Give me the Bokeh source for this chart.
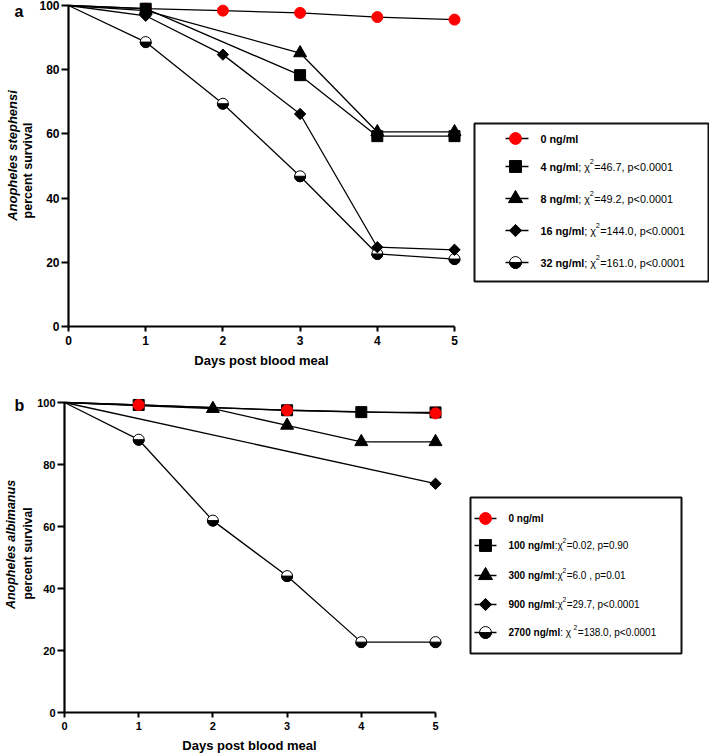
import math
from bokeh.plotting import figure
from bokeh.models import Range1d, LinearAxis, FixedTicker, ColumnDataSource
from bokeh.core.properties import value
from bokeh.embed import file_html
from bokeh.resources import INLINE

FONT = "Liberation Sans"

# ---------------- data: panel a (Anopheles stephensi) ----------------
days_a0 = [0, 1, 2, 3, 4, 5]
surv_a0 = [100, 99.0, 98.4, 97.7, 96.4, 95.6]
days_a4 = [0, 1, 3, 4, 5]
surv_a4 = [100, 99.0, 78.3, 59.3, 59.3]
days_a8 = [0, 1, 3, 4, 5]
surv_a8 = [100, 98.4, 85.2, 60.6, 60.6]
days_a16 = [0, 1, 2, 3, 4, 5]
surv_a16 = [100, 96.8, 84.7, 66.2, 24.7, 23.9]
days_a32 = [0, 1, 2, 3, 4, 5]
surv_a32 = [100, 88.6, 69.4, 46.8, 22.6, 21.0]

# ---------------- data: panel b (Anopheles albimanus) ----------------
days_b0 = [0, 1, 3, 5]
surv_b0 = [100, 99.2, 97.5, 96.5]
days_b100 = [0, 1, 3, 4, 5]
surv_b100 = [100, 99.2, 97.5, 96.9, 96.8]
days_b300 = [0, 2, 3, 4, 5]
surv_b300 = [100, 98.0, 92.6, 87.3, 87.3]
days_b900 = [0, 5]
surv_b900 = [100, 73.8]
days_b2700 = [0, 1, 2, 3, 4, 5]
surv_b2700 = [100, 88.0, 61.9, 44.0, 22.7, 22.7]

x_ticks = [0, 1, 2, 3, 4, 5]
y_ticks = [0, 20, 40, 60, 80, 100]

# ---------------- legend texts ----------------
leg_a_bold = ["0 ng/ml", "4 ng/ml", "8 ng/ml", "16 ng/ml", "32 ng/ml"]
leg_a_mid = ["", "; \u03c7", "; \u03c7", "; \u03c7", "; \u03c7"]
leg_a_sup = ["", "2", "2", "2", "2"]
leg_a_tail = ["", "=46.7, p<0.0001", "=49.2, p<0.0001", "=144.0, p<0.0001", "=161.0, p<0.0001"]
leg_a_mark = ["red", "square", "triangle", "diamond", "half"]

leg_b_bold = ["0 ng/ml", "100 ng/ml", "300 ng/ml", "900 ng/ml", "2700 ng/ml"]
leg_b_mid = ["", ":\u03c7", ":\u03c7", ":\u03c7", " : \u03c7"]
leg_b_sup = ["", "2", "2", "2", "2"]
leg_b_tail = ["", "=0.02, p=0.90", "=6.0 , p=0.01", "=29.7, p<0.0001", "=138.0, p<0.0001"]
leg_b_mark = ["red", "square", "triangle", "diamond", "half"]

# approximate Arial / Liberation Sans advance widths (per 1000 em)
REG = {" ": 278, ";": 278, ":": 278, "=": 584, ".": 278, ",": 278, "p": 556, "<": 584,
       "\u03c7": 500, "n": 556, "g": 556, "/": 278, "m": 833, "l": 222}
BOLD = {" ": 278, "n": 611, "g": 611, "/": 278, "m": 889, "l": 278, ":": 333}


def text_width(s, size, bold=False):
    table = BOLD if bold else REG
    total = 0
    for ch in s:
        total += 556 if ch.isdigit() else table.get(ch, 556)
    return total * size / 1000.0


RED = "#ff0000"
BLACK = "#000000"
W, H = 709, 755

# one canvas; the frame covers all of it, axes sit at data zero
p = figure(width=W, height=H, output_backend="svg", toolbar_location=None,
           x_axis_type=None, y_axis_type=None,
           x_range=Range1d(-68 / 77.2, (W - 68) / 77.2),
           y_range=Range1d(100 - (H - 5) / 3.21, 100 + 5 / 3.21),
           min_border_left=0, min_border_right=0, min_border_top=0, min_border_bottom=0)
p.extra_x_ranges = {"bx": Range1d(-64 / 74.2, (W - 64) / 74.2),
                    "px": Range1d(0, W)}
p.extra_y_ranges = {"by": Range1d(-(H - 712) / 3.1, -(H - 712) / 3.1 + H / 3.1),
                    "py": Range1d(H, 0)}
p.outline_line_color = None
p.grid.visible = False
p.background_fill_color = "white"
p.border_fill_color = "white"


def style_axis(ax, ticks, tick_size, tick_out, standoff):
    ax.ticker = FixedTicker(ticks=ticks)
    ax.axis_line_width = 2.2
    ax.axis_line_color = BLACK
    ax.major_tick_line_width = 2
    ax.major_tick_line_color = BLACK
    ax.major_tick_in = 0
    ax.major_tick_out = tick_out
    ax.minor_tick_line_color = None
    ax.major_label_text_font = FONT
    ax.major_label_text_font_style = "bold"
    ax.major_label_text_font_size = f"{tick_size}px"
    ax.major_label_text_color = BLACK
    ax.major_label_standoff = standoff


for rx, ry, ts in ((None, None, 12), ("bx", "by", 11)):
    kw = {}
    if rx:
        kw = dict(x_range_name=rx, y_range_name=ry)
    xa = LinearAxis(fixed_location=0, bounds=(0, 5), **kw)
    style_axis(xa, x_ticks, ts, 5, 4)
    ya = LinearAxis(fixed_location=0, bounds=(0, 100), **kw)
    style_axis(ya, y_ticks, ts, 7, 2)
    p.add_layout(xa, "below")
    p.add_layout(ya, "left")


def draw_markers(kind, xs, ys, big=False, **kw):
    k = 1.08 if big else 1.0
    if kind == "red":
        p.scatter(xs, ys, marker="circle", size=11 * k, fill_color=RED, line_color=RED, **kw)
    elif kind == "square":
        p.scatter(xs, ys, marker="square", size=11 * k, fill_color=BLACK, line_color=BLACK, **kw)
    elif kind == "triangle":
        p.scatter(xs, ys, marker="triangle", size=13 * k, fill_color=BLACK, line_color=BLACK, **kw)
    elif kind == "diamond":
        p.scatter(xs, ys, marker="square", angle=math.pi / 4, size=8 * k,
                  fill_color=BLACK, line_color=BLACK, **kw)
    elif kind == "half":
        p.scatter(xs, ys, marker="circle", size=11 * k, fill_color="white", line_color=BLACK,
                  line_width=1, **kw)
        p.wedge(xs, ys, radius=5.5 * k, radius_units="screen", start_angle=math.pi,
                end_angle=2 * math.pi, fill_color=BLACK, line_color=BLACK, **kw)


def series(kind, xs, ys, **kw):
    # the curve starts at day 0 (100 %), markers only on observation days after it
    p.line(xs, ys, line_color=BLACK, line_width=1.3, **kw)
    draw_markers(kind, xs[1:], ys[1:], **kw)


PX = dict(x_range_name="px", y_range_name="py")


def texts(xs, ys, labels, size, style, angle=0.0, align="center", baseline="middle"):
    src = ColumnDataSource(dict(x=xs, y=ys, t=labels))
    p.text(x="x", y="y", text="t", source=src, text_font=value(FONT), text_font_style=style,
           text_font_size=f"{size}px", text_color=BLACK, angle=angle, text_align=align,
           text_baseline=baseline, **PX)


def legend(box, rows_y, bold, mid, sup, tail, marks, xm, xl0, xl1, xt, fsize):
    x0, y0, x1, y1 = box
    p.quad(left=[x0], right=[x1], top=[y0], bottom=[y1], fill_color="white",
           line_color="#111111", line_width=2, **PX)
    n = len(bold)
    p.segment(x0=[xl0] * n, y0=rows_y, x1=[xl1] * n, y1=rows_y, line_color=BLACK,
              line_width=1.5, **PX)
    for i, kind in enumerate(marks):
        draw_markers(kind, [xm], [rows_y[i]], big=True, **PX)
    off_mid = [text_width(b, fsize, True) for b in bold]
    off_sup = [off_mid[i] + text_width(mid[i], fsize) for i in range(n)]
    off_tail = [off_sup[i] + text_width(sup[i], fsize * 0.68) + 0.5 for i in range(n)]
    src = ColumnDataSource(dict(x=[xt] * n, y=rows_y, bold=bold, mid=mid, sup=sup,
                                tail=tail, om=off_mid, os=off_sup, ot=off_tail))
    common = dict(text_font=value(FONT), text_color=BLACK, text_baseline="middle",
                  text_align="left", **PX)
    p.text(x="x", y="y", text="bold", source=src, text_font_style="bold",
           text_font_size=f"{fsize}px", **common)
    p.text(x="x", y="y", text="mid", source=src, x_offset="om",
           text_font_size=f"{fsize}px", **common)
    p.text(x="x", y="y", text="sup", source=src, x_offset="os", y_offset=-5,
           text_font_size=f"{fsize * 0.68:.1f}px", **common)
    p.text(x="x", y="y", text="tail", source=src, x_offset="ot",
           text_font_size=f"{fsize}px", **common)


# ---------------- panel a ----------------
series("red", days_a0, surv_a0)
series("half", days_a32, surv_a32)
series("diamond", days_a16, surv_a16)
series("triangle", days_a8, surv_a8)
series("square", days_a4, surv_a4)

# ---------------- panel b ----------------
B = dict(x_range_name="bx", y_range_name="by")
series("half", days_b2700, surv_b2700, **B)
series("diamond", days_b900, surv_b900, **B)
series("triangle", days_b300, surv_b300, **B)
series("square", days_b100, surv_b100, **B)
series("red", days_b0, surv_b0, **B)

# ---------------- titles and axis texts ----------------
texts([14, 14], [11, 405], ["a", "b"], 16, "bold", align="left")
texts([261, 249], [360, 745], ["Days post blood meal", "Days post blood meal"], 13, "bold")
texts([12], [155], ["Anopheles stephensi"], 13, "bold italic", angle=math.pi / 2)
texts([27], [170], ["percent survival"], 12.5, "bold", angle=math.pi / 2)
texts([10], [544], ["Anopheles albimanus"], 12.5, "bold italic", angle=math.pi / 2)
texts([27], [553], ["percent survival"], 12, "bold", angle=math.pi / 2)

# ---------------- legends ----------------
legend((474, 123, 708, 281), [138, 166, 198, 230, 262], leg_a_bold, leg_a_mid, leg_a_sup,
       leg_a_tail, leg_a_mark, 515, 505, 528, 540, 10.8)
legend((470, 497, 681, 653), [518, 545, 575, 604, 632], leg_b_bold, leg_b_mid, leg_b_sup,
       leg_b_tail, leg_b_mark, 485, 474, 496, 508, 10)

open("out.html", "w").write(file_html(p, INLINE))
